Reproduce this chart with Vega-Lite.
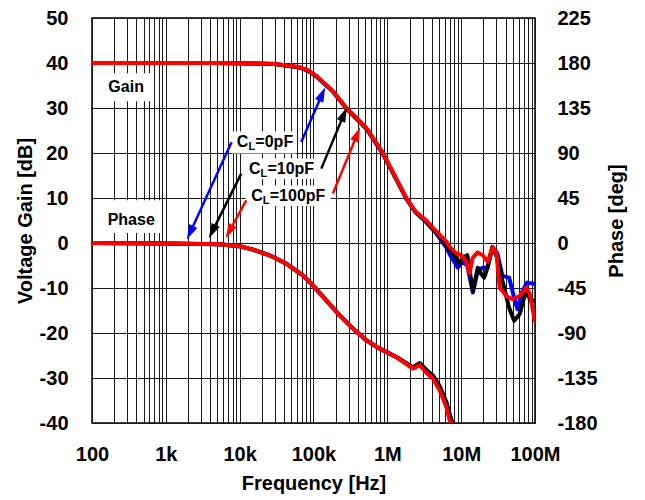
{
  "$schema": "https://vega.github.io/schema/vega-lite/v6.json",
  "width": 443,
  "height": 405,
  "autosize": {"type": "none"},
  "padding": {"left": 92, "top": 18, "right": 110, "bottom": 77},
  "background": "white",
  "config": {
    "view": {"stroke": "black", "strokeWidth": 1.5},
    "font": "Liberation Sans",
    "axis": {"labelFont": "Liberation Sans", "labelFontWeight": "bold", "labelFontSize": 20, "labelColor": "black", "titleFont": "Liberation Sans", "titleFontWeight": "bold", "titleFontSize": 20, "titleColor": "black", "domain": false, "ticks": false, "tickSize": 0}
  },
  "datasets": {
    "gain": [
      {"s": "CL0", "f": 100, "g": 40}, {"s": "CL0", "f": 1000, "g": 40}, {"s": "CL0", "f": 5000, "g": 40}, {"s": "CL0", "f": 13600, "g": 39.9}, {"s": "CL0", "f": 30000, "g": 39.8}, {"s": "CL0", "f": 64600, "g": 39.0}, {"s": "CL0", "f": 84000, "g": 38.3}, {"s": "CL0", "f": 110000, "g": 37.0}, {"s": "CL0", "f": 182000, "g": 33.7}, {"s": "CL0", "f": 276000, "g": 30.0}, {"s": "CL0", "f": 519000, "g": 25.4}, {"s": "CL0", "f": 871000, "g": 19.8}, {"s": "CL0", "f": 1256000, "g": 14.8}, {"s": "CL0", "f": 1810000, "g": 9.8}, {"s": "CL0", "f": 2410000, "g": 6.8}, {"s": "CL0", "f": 3370000, "g": 4.6}, {"s": "CL0", "f": 4660000, "g": 2.0}, {"s": "CL0", "f": 6310000, "g": -1.0}, {"s": "CL0", "f": 6980000, "g": -2.5}, {"s": "CL0", "f": 9000000, "g": -5.5}, {"s": "CL0", "f": 10400000, "g": -4.2}, {"s": "CL0", "f": 12100000, "g": -5.0}, {"s": "CL0", "f": 14400000, "g": -11.0}, {"s": "CL0", "f": 16800000, "g": -6.2}, {"s": "CL0", "f": 19500000, "g": -5.5}, {"s": "CL0", "f": 22700000, "g": -5.5}, {"s": "CL0", "f": 26500000, "g": -0.9}, {"s": "CL0", "f": 30900000, "g": -2.3}, {"s": "CL0", "f": 36200000, "g": -7.3}, {"s": "CL0", "f": 44600000, "g": -7.7}, {"s": "CL0", "f": 52300000, "g": -12.2}, {"s": "CL0", "f": 57900000, "g": -14.7}, {"s": "CL0", "f": 67300000, "g": -10.7}, {"s": "CL0", "f": 78400000, "g": -8.8}, {"s": "CL0", "f": 100000000, "g": -9.1},
      {"s": "CL10", "f": 100, "g": 40}, {"s": "CL10", "f": 1000, "g": 40}, {"s": "CL10", "f": 5000, "g": 40}, {"s": "CL10", "f": 13600, "g": 39.9}, {"s": "CL10", "f": 30000, "g": 39.8}, {"s": "CL10", "f": 64600, "g": 39.0}, {"s": "CL10", "f": 84000, "g": 38.3}, {"s": "CL10", "f": 110000, "g": 37.0}, {"s": "CL10", "f": 182000, "g": 33.7}, {"s": "CL10", "f": 276000, "g": 30.0}, {"s": "CL10", "f": 519000, "g": 25.5}, {"s": "CL10", "f": 871000, "g": 19.9}, {"s": "CL10", "f": 1256000, "g": 14.9}, {"s": "CL10", "f": 1810000, "g": 9.9}, {"s": "CL10", "f": 2410000, "g": 6.9}, {"s": "CL10", "f": 3370000, "g": 4.8}, {"s": "CL10", "f": 4660000, "g": 2.3}, {"s": "CL10", "f": 6310000, "g": -0.5}, {"s": "CL10", "f": 6980000, "g": -1.6}, {"s": "CL10", "f": 8610000, "g": -3.3}, {"s": "CL10", "f": 9440000, "g": -4.7}, {"s": "CL10", "f": 10400000, "g": -3.3}, {"s": "CL10", "f": 12100000, "g": -2.7}, {"s": "CL10", "f": 14400000, "g": -10.7}, {"s": "CL10", "f": 16800000, "g": -5.5}, {"s": "CL10", "f": 18700000, "g": -6.9}, {"s": "CL10", "f": 20500000, "g": -7.7}, {"s": "CL10", "f": 22700000, "g": -5.5}, {"s": "CL10", "f": 26500000, "g": -0.9}, {"s": "CL10", "f": 30900000, "g": -3.3}, {"s": "CL10", "f": 36200000, "g": -8.4}, {"s": "CL10", "f": 44600000, "g": -14.4}, {"s": "CL10", "f": 52300000, "g": -17.3}, {"s": "CL10", "f": 62100000, "g": -15.8}, {"s": "CL10", "f": 76400000, "g": -10.2}, {"s": "CL10", "f": 84700000, "g": -12.5}, {"s": "CL10", "f": 100000000, "g": -13.0},
      {"s": "CL100", "f": 100, "g": 40}, {"s": "CL100", "f": 1000, "g": 40}, {"s": "CL100", "f": 5000, "g": 40}, {"s": "CL100", "f": 13600, "g": 39.9}, {"s": "CL100", "f": 30000, "g": 39.8}, {"s": "CL100", "f": 64600, "g": 39.1}, {"s": "CL100", "f": 84000, "g": 38.4}, {"s": "CL100", "f": 110000, "g": 37.1}, {"s": "CL100", "f": 182000, "g": 33.8}, {"s": "CL100", "f": 276000, "g": 30.1}, {"s": "CL100", "f": 519000, "g": 25.6}, {"s": "CL100", "f": 871000, "g": 20.0}, {"s": "CL100", "f": 1256000, "g": 15.0}, {"s": "CL100", "f": 1810000, "g": 10.0}, {"s": "CL100", "f": 2410000, "g": 7.0}, {"s": "CL100", "f": 3370000, "g": 5.0}, {"s": "CL100", "f": 4660000, "g": 2.5}, {"s": "CL100", "f": 6310000, "g": 0.3}, {"s": "CL100", "f": 6980000, "g": -0.9}, {"s": "CL100", "f": 8610000, "g": -2.3}, {"s": "CL100", "f": 10070000, "g": -2.7}, {"s": "CL100", "f": 11760000, "g": -4.2}, {"s": "CL100", "f": 13000000, "g": -6.7}, {"s": "CL100", "f": 14300000, "g": -3.3}, {"s": "CL100", "f": 16700000, "g": -2.1}, {"s": "CL100", "f": 19600000, "g": -2.7}, {"s": "CL100", "f": 22900000, "g": -4.2}, {"s": "CL100", "f": 26700000, "g": -0.9}, {"s": "CL100", "f": 30000000, "g": -2.3}, {"s": "CL100", "f": 33300000, "g": -9.9}, {"s": "CL100", "f": 40900000, "g": -11.8}, {"s": "CL100", "f": 49900000, "g": -12.5}, {"s": "CL100", "f": 62100000, "g": -11.8}, {"s": "CL100", "f": 76400000, "g": -9.9}, {"s": "CL100", "f": 84700000, "g": -11.3}, {"s": "CL100", "f": 100000000, "g": -17.3}
    ],
    "phase": [
      {"s": "CL0", "f": 100, "p": 0}, {"s": "CL0", "f": 1000, "p": -0.5}, {"s": "CL0", "f": 5346, "p": -1.3}, {"s": "CL0", "f": 9980, "p": -3.3}, {"s": "CL0", "f": 15100, "p": -6.6}, {"s": "CL0", "f": 25400, "p": -12.3}, {"s": "CL0", "f": 42800, "p": -20.6}, {"s": "CL0", "f": 71800, "p": -32.3}, {"s": "CL0", "f": 98100, "p": -42.3}, {"s": "CL0", "f": 149000, "p": -57.3}, {"s": "CL0", "f": 226000, "p": -72.3}, {"s": "CL0", "f": 342000, "p": -85.6}, {"s": "CL0", "f": 519000, "p": -97.3}, {"s": "CL0", "f": 787000, "p": -105.6}, {"s": "CL0", "f": 1324000, "p": -114}, {"s": "CL0", "f": 2220000, "p": -124.5}, {"s": "CL0", "f": 2740000, "p": -120.5}, {"s": "CL0", "f": 3380000, "p": -127.5}, {"s": "CL0", "f": 4150000, "p": -133}, {"s": "CL0", "f": 5110000, "p": -144}, {"s": "CL0", "f": 6300000, "p": -160}, {"s": "CL0", "f": 6980000, "p": -172}, {"s": "CL0", "f": 7750000, "p": -182},
      {"s": "CL10", "f": 100, "p": 0}, {"s": "CL10", "f": 1000, "p": -0.5}, {"s": "CL10", "f": 5346, "p": -1.3}, {"s": "CL10", "f": 9980, "p": -3.3}, {"s": "CL10", "f": 15100, "p": -6.6}, {"s": "CL10", "f": 25400, "p": -12.3}, {"s": "CL10", "f": 42800, "p": -20.6}, {"s": "CL10", "f": 71800, "p": -32.3}, {"s": "CL10", "f": 98100, "p": -42.3}, {"s": "CL10", "f": 149000, "p": -57.3}, {"s": "CL10", "f": 226000, "p": -72.3}, {"s": "CL10", "f": 342000, "p": -85.6}, {"s": "CL10", "f": 519000, "p": -97.3}, {"s": "CL10", "f": 787000, "p": -105.6}, {"s": "CL10", "f": 1324000, "p": -114}, {"s": "CL10", "f": 2220000, "p": -124.5}, {"s": "CL10", "f": 2740000, "p": -120}, {"s": "CL10", "f": 3380000, "p": -127}, {"s": "CL10", "f": 4150000, "p": -132.5}, {"s": "CL10", "f": 5110000, "p": -143}, {"s": "CL10", "f": 6300000, "p": -159}, {"s": "CL10", "f": 6980000, "p": -171}, {"s": "CL10", "f": 7750000, "p": -182},
      {"s": "CL100", "f": 100, "p": 0}, {"s": "CL100", "f": 1000, "p": -0.5}, {"s": "CL100", "f": 5346, "p": -1.3}, {"s": "CL100", "f": 9980, "p": -3.3}, {"s": "CL100", "f": 15100, "p": -6.6}, {"s": "CL100", "f": 25400, "p": -12.3}, {"s": "CL100", "f": 42800, "p": -20.6}, {"s": "CL100", "f": 71800, "p": -32.3}, {"s": "CL100", "f": 98100, "p": -42.3}, {"s": "CL100", "f": 149000, "p": -57.3}, {"s": "CL100", "f": 226000, "p": -72.3}, {"s": "CL100", "f": 342000, "p": -85.6}, {"s": "CL100", "f": 519000, "p": -97.3}, {"s": "CL100", "f": 787000, "p": -105.6}, {"s": "CL100", "f": 1324000, "p": -114}, {"s": "CL100", "f": 2220000, "p": -125.6}, {"s": "CL100", "f": 2740000, "p": -122.3}, {"s": "CL100", "f": 3380000, "p": -130}, {"s": "CL100", "f": 4150000, "p": -135.6}, {"s": "CL100", "f": 5110000, "p": -147.3}, {"s": "CL100", "f": 6300000, "p": -164}, {"s": "CL100", "f": 6980000, "p": -177.3}, {"s": "CL100", "f": 7550000, "p": -182}
    ],
    "boxes": [
      {"f1": 126, "f2": 661, "g1": 37.7, "g2": 31.5},
      {"f1": 126, "f2": 847, "g1": 9.5, "g2": 2.2},
      {"f1": 7760, "f2": 59000, "g1": 24.8, "g2": 19.9},
      {"f1": 11300, "f2": 117000, "g1": 18.8, "g2": 14.2},
      {"f1": 12000, "f2": 170000, "g1": 12.8, "g2": 8.2}
    ],
    "words": [
      {"f": 290, "g": 34.7, "t": "Gain"},
      {"f": 340, "g": 5.2, "t": "Phase"}
    ],
    "clabels": [
      {"f": 9162, "g": 22.4, "rest": "=0pF"},
      {"f": 13330, "g": 16.4, "rest": "=10pF"},
      {"f": 14350, "g": 10.5, "rest": "=100pF"}
    ],
    "arrows": [
      {"id": "bl", "s": "CL0", "f1": 7762, "g1": 22.38, "f2": 2128, "g2": 2.27},
      {"id": "bu", "s": "CL0", "f1": 68400, "g1": 22.44, "f2": 131200, "g2": 33.09},
      {"id": "kl", "s": "CL10", "f1": 10510, "g1": 15.42, "f2": 4254, "g2": 2.53},
      {"id": "ku", "s": "CL10", "f1": 127600, "g1": 16.53, "f2": 258800, "g2": 28.64},
      {"id": "rl", "s": "CL100", "f1": 12280, "g1": 9.49, "f2": 7210, "g2": 2.51},
      {"id": "ru", "s": "CL100", "f1": 183200, "g1": 10.98, "f2": 392000, "g2": 24.2}
    ]
  },
  "resolve": {"scale": {"y": "independent"}},
  "layer": [
    {
      "layer": [
        {
          "data": {"name": "boxes"},
          "mark": {"type": "rect", "fill": "white"},
          "encoding": {
            "x": {"field": "f1", "type": "quantitative", "scale": {"type": "log", "domain": [100, 100000000], "nice": false},
              "title": "Frequency [Hz]",
              "axis": {"values": [100,200,300,400,500,600,700,800,900,1000,2000,3000,4000,5000,6000,7000,8000,9000,10000,20000,30000,40000,50000,60000,70000,80000,90000,100000,200000,300000,400000,500000,600000,700000,800000,900000,1000000,2000000,3000000,4000000,5000000,6000000,7000000,8000000,9000000,10000000,20000000,30000000,40000000,50000000,60000000,70000000,80000000,90000000,100000000],
                "labelExpr": "datum.value == 100 ? '100' : datum.value == 1000 ? '1k' : datum.value == 10000 ? '10k' : datum.value == 100000 ? '100k' : datum.value == 1000000 ? '1M' : datum.value == 10000000 ? '10M' : datum.value == 100000000 ? '100M' : ''",
                "grid": true, "gridColor": "#1a1a1a", "gridWidth": 1, "gridOpacity": 1,
                "labelPadding": 21, "labelOverlap": false, "labelFlush": false, "labelBound": false, "titlePadding": 9}},
            "x2": {"field": "f2"},
            "y": {"field": "g1", "type": "quantitative", "scale": {"domain": [-40, 50], "nice": false, "zero": false},
              "title": "Voltage Gain [dB]",
              "axis": {"values": [-40,-30,-20,-10,0,10,20,30,40,50], "labelExpr": "'' + datum.value", "grid": true, "gridColor": "#1a1a1a", "gridWidth": 1, "gridOpacity": 1, "labelPadding": 24, "titlePadding": 4}},
            "y2": {"field": "g2"}
          }
        },
        {
          "data": {"name": "gain"},
          "mark": {"type": "line", "strokeWidth": 4, "clip": true, "strokeJoin": "round", "strokeCap": "round"},
          "encoding": {
            "x": {"field": "f", "type": "quantitative"},
            "y": {"field": "g", "type": "quantitative"},
            "color": {"field": "s", "type": "nominal", "scale": {"domain": ["CL0", "CL10", "CL100"], "range": ["#0000FF", "#000000", "#FF0000"]}, "legend": null}
          }
        },
        {
          "data": {"name": "arrows"},
          "mark": {"type": "rule", "strokeWidth": 2.5},
          "encoding": {
            "x": {"field": "f1", "type": "quantitative"},
            "y": {"field": "g1", "type": "quantitative"},
            "x2": {"field": "f2"},
            "y2": {"field": "g2"},
            "color": {"field": "s", "type": "nominal", "legend": null}
          }
        },
        {"data": {"name": "arrows"}, "transform": [{"filter": "datum.id == 'bl'"}], "mark": {"type": "point", "shape": "M0,-1L0.6,1L-0.6,1Z", "filled": true, "size": 225, "angle": 205, "opacity": 1},
          "encoding": {"x": {"field": "f2", "type": "quantitative"}, "y": {"field": "g2", "type": "quantitative"}, "color": {"field": "s", "type": "nominal", "legend": null}}},
        {"data": {"name": "arrows"}, "transform": [{"filter": "datum.id == 'bu'"}], "mark": {"type": "point", "shape": "M0,-1L0.6,1L-0.6,1Z", "filled": true, "size": 225, "angle": 24, "opacity": 1},
          "encoding": {"x": {"field": "f2", "type": "quantitative"}, "y": {"field": "g2", "type": "quantitative"}, "color": {"field": "s", "type": "nominal", "legend": null}}},
        {"data": {"name": "arrows"}, "transform": [{"filter": "datum.id == 'kl'"}], "mark": {"type": "point", "shape": "M0,-1L0.6,1L-0.6,1Z", "filled": true, "size": 225, "angle": 207, "opacity": 1},
          "encoding": {"x": {"field": "f2", "type": "quantitative"}, "y": {"field": "g2", "type": "quantitative"}, "color": {"field": "s", "type": "nominal", "legend": null}}},
        {"data": {"name": "arrows"}, "transform": [{"filter": "datum.id == 'ku'"}], "mark": {"type": "point", "shape": "M0,-1L0.6,1L-0.6,1Z", "filled": true, "size": 225, "angle": 23, "opacity": 1},
          "encoding": {"x": {"field": "f2", "type": "quantitative"}, "y": {"field": "g2", "type": "quantitative"}, "color": {"field": "s", "type": "nominal", "legend": null}}},
        {"data": {"name": "arrows"}, "transform": [{"filter": "datum.id == 'rl'"}], "mark": {"type": "point", "shape": "M0,-1L0.6,1L-0.6,1Z", "filled": true, "size": 225, "angle": 209, "opacity": 1},
          "encoding": {"x": {"field": "f2", "type": "quantitative"}, "y": {"field": "g2", "type": "quantitative"}, "color": {"field": "s", "type": "nominal", "legend": null}}},
        {"data": {"name": "arrows"}, "transform": [{"filter": "datum.id == 'ru'"}], "mark": {"type": "point", "shape": "M0,-1L0.6,1L-0.6,1Z", "filled": true, "size": 225, "angle": 22, "opacity": 1},
          "encoding": {"x": {"field": "f2", "type": "quantitative"}, "y": {"field": "g2", "type": "quantitative"}, "color": {"field": "s", "type": "nominal", "legend": null}}},
        {
          "data": {"name": "words"},
          "mark": {"type": "text", "font": "Liberation Sans", "fontWeight": "bold", "fontSize": 16, "align": "center", "baseline": "middle", "color": "black"},
          "encoding": {
            "x": {"field": "f", "type": "quantitative"},
            "y": {"field": "g", "type": "quantitative"},
            "text": {"field": "t"}
          }
        },
        {
          "data": {"name": "clabels"},
          "mark": {"type": "text", "text": "C", "font": "Liberation Sans", "fontWeight": "bold", "fontSize": 16, "align": "left", "baseline": "middle", "color": "black"},
          "encoding": {
            "x": {"field": "f", "type": "quantitative"},
            "y": {"field": "g", "type": "quantitative"}
          }
        },
        {
          "data": {"name": "clabels"},
          "mark": {"type": "text", "text": "L", "font": "Liberation Sans", "fontWeight": "bold", "fontSize": 11, "align": "left", "baseline": "middle", "dx": 11.6, "dy": 5, "color": "black"},
          "encoding": {
            "x": {"field": "f", "type": "quantitative"},
            "y": {"field": "g", "type": "quantitative"}
          }
        },
        {
          "data": {"name": "clabels"},
          "mark": {"type": "text", "font": "Liberation Sans", "fontWeight": "bold", "fontSize": 16, "align": "left", "baseline": "middle", "dx": 18.5, "color": "black"},
          "encoding": {
            "x": {"field": "f", "type": "quantitative"},
            "y": {"field": "g", "type": "quantitative"},
            "text": {"field": "rest"}
          }
        }
      ]
    },
    {
      "data": {"name": "phase"},
      "mark": {"type": "line", "strokeWidth": 4, "clip": true, "strokeJoin": "round", "strokeCap": "round"},
      "encoding": {
        "x": {"field": "f", "type": "quantitative"},
        "y": {"field": "p", "type": "quantitative", "scale": {"domain": [-180, 225], "nice": false, "zero": false},
          "title": "Phase [deg]",
          "axis": {"orient": "right", "values": [-180,-135,-90,-45,0,45,90,135,180,225], "labelExpr": "'' + datum.value", "grid": false, "labelAlign": "left", "labelPadding": 22, "titlePadding": 29, "titleAngle": 270}},
        "color": {"field": "s", "type": "nominal", "legend": null}
      }
    }
  ]
}
